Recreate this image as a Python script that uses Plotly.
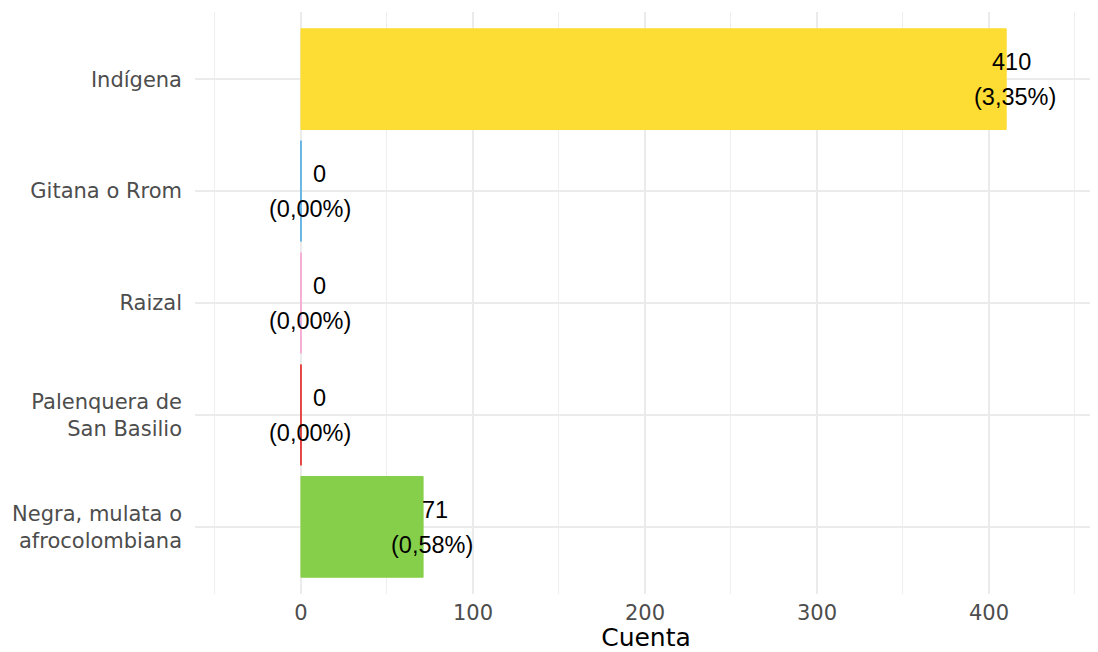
import plotly.graph_objects as go

categories = ["Indígena", "Gitana o Rrom", "Raizal", "Palenquera de<br>San Basilio", "Negra, mulata o<br>afrocolombiana"]
counts = [410, 0, 0, 0, 71]
percents = [3.35, 0.00, 0.00, 0.00, 0.58]
colors = ["#FDDD33", "#5AB0E4", "#F6A8D4", "#E3322E", "#86CF4A"]
x_ticks = [0, 100, 200, 300, 400]

n = len(categories)
pos = [n - 1 - i for i in range(n)]  # top to bottom

fig = go.Figure()
fig.add_trace(go.Bar(
    x=counts, y=pos, orientation="h", width=0.9,
    marker=dict(color=colors, line=dict(color=colors, width=1)),
    hoverinfo="skip", showlegend=False,
))
# zero-length bars drawn as their outline
for c, p, col in zip(counts, pos, colors):
    if c == 0:
        fig.add_trace(go.Scatter(x=[c, c], y=[p - 0.45, p + 0.45], mode="lines",
                                 line=dict(color=col, width=1), hoverinfo="skip",
                                 showlegend=False))

lab_font = dict(family="Liberation Sans, Arial", size=23.5, color="black")
for c, p, pc in zip(counts, pos, percents):
    fig.add_annotation(x=c, y=p, text=str(c), showarrow=False, yshift=17,
                       xanchor="right", xshift=27, font=lab_font)
    fig.add_annotation(x=c, y=p, text="(" + f"{pc:.2f}".replace(".", ",") + "%)",
                       showarrow=False, yshift=-18, xshift=9, font=lab_font)

tick_font = dict(family="DejaVu Sans", size=21, color="#4D4D4D")
minor_vals = [-50, 50, 150, 250, 350, 450]

fig.update_layout(
    width=1090, height=644,
    margin=dict(l=187, r=1, t=4, b=58),
    plot_bgcolor="white", paper_bgcolor="white",
    xaxis=dict(range=[-61.6, 462.8], tickvals=x_ticks, ticktext=[str(v) for v in x_ticks],
               showgrid=True, gridcolor="#EBEBEB", gridwidth=2, zeroline=False,
               tickfont=tick_font, ticks="", ticklabelstandoff=4,
               minor=dict(tickvals=minor_vals, showgrid=True, gridcolor="#EEEEEE", gridwidth=1),
               title=dict(text="Cuenta", font=dict(family="DejaVu Sans", size=25, color="black"), standoff=0)),
    yaxis=dict(range=[-0.6, n - 0.4], tickvals=pos, ticktext=categories,
               showgrid=True, gridcolor="#EBEBEB", gridwidth=2, zeroline=False,
               tickfont=tick_font, ticks="", ticklabelstandoff=12),
)

fig.write_html("out.html")
